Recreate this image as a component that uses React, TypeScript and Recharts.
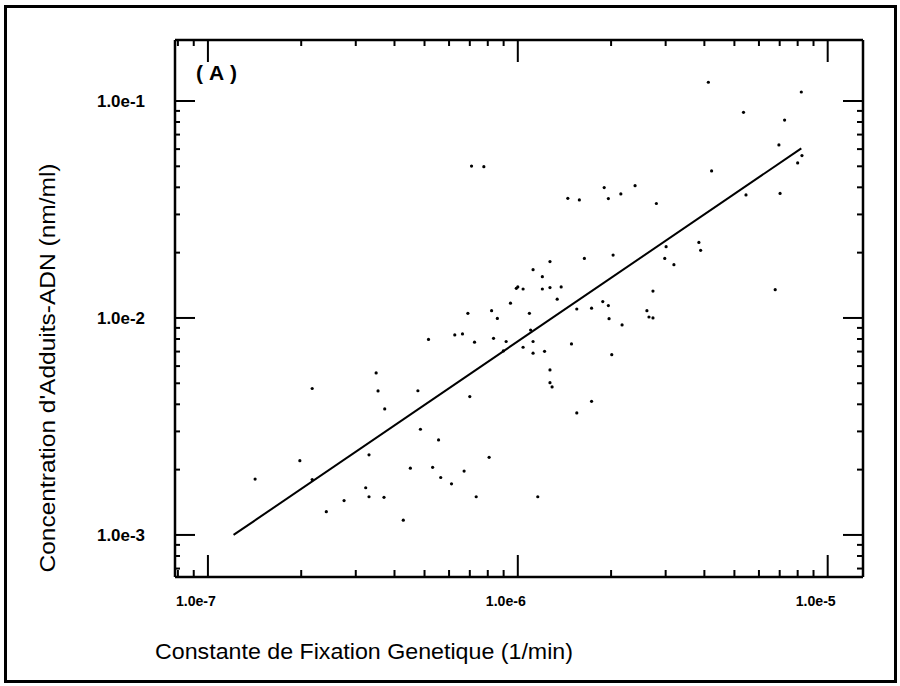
import { ScatterChart, Scatter, XAxis, YAxis } from "recharts";

// Constante de fixation genetique (1/min) for each sample
const FIXATION = [
  1.42e-7, 1.98e-7, 2.17e-7, 2.17e-7, 2.41e-7, 2.75e-7, 3.23e-7, 3.31e-7, 3.31e-7, 3.49e-7,
  3.54e-7, 3.70e-7, 3.72e-7, 4.27e-7, 4.50e-7, 4.76e-7, 4.85e-7, 5.15e-7, 5.31e-7, 5.55e-7,
  5.64e-7, 6.11e-7, 6.26e-7, 6.63e-7, 6.71e-7, 6.90e-7, 7.00e-7, 7.25e-7, 7.34e-7, 8.08e-7,
  8.23e-7, 8.35e-7, 8.59e-7, 8.98e-7, 9.17e-7, 9.47e-7, 9.89e-7, 1.00e-6, 1.04e-6, 1.04e-6,
  1.09e-6, 1.10e-6, 1.12e-6, 1.12e-6, 1.12e-6, 1.16e-6, 1.20e-6, 1.20e-6, 1.22e-6, 1.27e-6,
  1.27e-6, 1.27e-6, 1.27e-6, 1.29e-6, 1.34e-6, 1.38e-6, 1.45e-6, 1.49e-6, 1.55e-6, 1.55e-6,
  1.58e-6, 1.64e-6, 1.73e-6, 1.73e-6, 1.88e-6, 1.90e-6, 1.96e-6, 1.96e-6, 1.97e-6, 2.01e-6,
  2.03e-6, 2.15e-6, 2.17e-6, 2.39e-6, 2.61e-6, 2.65e-6, 2.73e-6, 2.73e-6, 2.80e-6, 2.98e-6,
  3.01e-6, 3.19e-6, 3.84e-6, 3.89e-6, 4.12e-6, 4.22e-6, 5.35e-6, 5.45e-6, 6.77e-6, 6.96e-6,
  7.02e-6, 7.26e-6, 8.00e-6, 8.22e-6, 8.26e-6, 7.09e-7, 7.77e-7,
];

// Concentration d'adduits-ADN (nm/ml), same order
const ADDUITS = [
  1.81e-3, 2.20e-3, 4.73e-3, 1.80e-3, 1.28e-3, 1.44e-3, 1.65e-3, 2.34e-3, 1.50e-3, 5.58e-3,
  4.61e-3, 1.49e-3, 3.81e-3, 1.17e-3, 2.03e-3, 4.62e-3, 3.07e-3, 7.96e-3, 2.05e-3, 2.74e-3,
  1.84e-3, 1.72e-3, 8.35e-3, 8.44e-3, 1.97e-3, 1.05e-2, 4.34e-3, 7.73e-3, 1.50e-3, 2.28e-3,
  1.08e-2, 8.06e-3, 9.95e-3, 7.05e-3, 7.79e-3, 1.17e-2, 1.37e-2, 1.39e-2, 1.36e-2, 7.33e-3,
  1.05e-2, 8.80e-3, 1.67e-2, 7.79e-3, 6.88e-3, 1.50e-3, 1.36e-2, 1.55e-2, 7.02e-3, 1.82e-2,
  1.38e-2, 5.76e-3, 5.03e-3, 4.81e-3, 1.22e-2, 1.39e-2, 3.56e-2, 7.59e-3, 1.10e-2, 3.65e-3,
  3.50e-2, 1.88e-2, 4.13e-3, 1.11e-2, 1.19e-2, 3.99e-2, 3.55e-2, 1.14e-2, 9.92e-3, 6.77e-3,
  1.95e-2, 3.73e-2, 9.29e-3, 4.07e-2, 1.08e-2, 1.01e-2, 1.00e-2, 1.33e-2, 3.37e-2, 1.88e-2,
  2.13e-2, 1.76e-2, 2.23e-2, 2.05e-2, 1.22e-1, 4.76e-2, 8.87e-2, 3.69e-2, 1.35e-2, 6.27e-2,
  3.75e-2, 8.17e-2, 5.18e-2, 1.10e-1, 5.60e-2, 5.01e-2, 4.98e-2,
];

// fitted regression line end points
const FIT_X = [1.21e-7, 8.22e-6];
const FIT_Y = [1.0e-3, 6.05e-2];

const X_TICKS = [
  8e-8, 9e-8, 1e-7, 2e-7, 3e-7, 4e-7, 5e-7, 6e-7, 7e-7, 8e-7, 9e-7,
  1e-6, 2e-6, 3e-6, 4e-6, 5e-6, 6e-6, 7e-6, 8e-6, 9e-6, 1e-5,
];
const Y_TICKS = [
  7e-4, 8e-4, 9e-4, 1e-3, 2e-3, 3e-3, 4e-3, 5e-3, 6e-3, 7e-3, 8e-3, 9e-3,
  1e-2, 2e-2, 3e-2, 4e-2, 5e-2, 6e-2, 7e-2, 8e-2, 9e-2, 1e-1,
];
const X_DOMAIN = [7.83e-8, 1.3e-5];
const Y_DOMAIN = [6.4e-4, 0.191];

const points = FIXATION.map((x, i) => ({ x, y: ADDUITS[i] }));
const fit = FIT_X.map((x, i) => ({ x, y: FIT_Y[i] }));

const isMajor = (v: number) => Math.abs(Math.log10(v) - Math.round(Math.log10(v))) < 1e-6;
const fmt = (v: number) => `1.0e${Math.round(Math.log10(v))}`;

const LABEL_FONT = "'Liberation Sans', Arial, sans-serif";
const TITLE_FONT = "'Liberation Sans Narrow', 'Liberation Sans', Arial, sans-serif";

function BottomTick({ x, y, payload }: any) {
  const major = isMajor(payload.value);
  return (
    <g>
      <line x1={x} x2={x} y1={y} y2={y - (major ? 22 : 7)} stroke="#000" strokeWidth={2} />
      {major && (
        <text x={x - 12} y={y + 29} textAnchor="middle" fontSize={15} fontWeight={700} fontFamily={LABEL_FONT} textLength={40} lengthAdjust="spacingAndGlyphs" fill="#000">
          {fmt(payload.value)}
        </text>
      )}
    </g>
  );
}

function TopTick({ x, y, payload }: any) {
  const major = isMajor(payload.value);
  return <line x1={x} x2={x} y1={y} y2={y + (major ? 22 : 6)} stroke="#000" strokeWidth={2} />;
}

function LeftTick({ x, y, payload }: any) {
  const major = isMajor(payload.value);
  return (
    <g>
      <line x1={x} x2={x + (major ? 20 : 5)} y1={y} y2={y} stroke="#000" strokeWidth={2} />
      {major && (
        <text x={x - 30} y={y + 6} textAnchor="end" fontSize={16} fontWeight={700} fontFamily={LABEL_FONT} textLength={48} lengthAdjust="spacingAndGlyphs" fill="#000">
          {fmt(payload.value)}
        </text>
      )}
    </g>
  );
}

function RightTick({ x, y, payload }: any) {
  const major = isMajor(payload.value);
  return <line x1={x} x2={x - (major ? 20 : 6)} y1={y} y2={y} stroke="#000" strokeWidth={2} />;
}

const dot = (props: any) => <circle cx={props.cx} cy={props.cy} r={1.6} fill="#000" />;
const none = () => <g />;

export default function App() {
  const axisLine = { stroke: "#000", strokeWidth: 2.5 };
  return (
    <div style={{ position: "fixed", left: 0, top: 0, width: 900, height: 686, background: "#fff" }}>
      <div
        style={{
          position: "absolute",
          left: 4,
          top: 5,
          width: 893,
          height: 678,
          border: "3px solid #000",
          boxSizing: "border-box",
        }}
      />
      <div style={{ position: "absolute", left: 0, top: 0 }}>
        <ScatterChart width={900} height={686} margin={{ top: 39, right: 36, bottom: 108, left: 174 }}>
          <XAxis
            xAxisId="b"
            type="number"
            dataKey="x"
            scale="log"
            domain={X_DOMAIN}
            allowDataOverflow
            ticks={X_TICKS}
            interval={0}
            height={1}
            tickSize={0}
            tickMargin={0}
            tickLine={false}
            axisLine={axisLine}
            tick={(p: any) => <BottomTick {...p} />}
            label={{
              content: () => (
                <text x={364} y={659} textAnchor="middle" fontSize={22} fontFamily={TITLE_FONT} textLength={418} lengthAdjust="spacingAndGlyphs" fill="#000">
                  Constante de Fixation Genetique  (1/min)
                </text>
              ),
            }}
          />
          <XAxis
            xAxisId="t"
            orientation="top"
            type="number"
            dataKey="x"
            scale="log"
            domain={X_DOMAIN}
            allowDataOverflow
            ticks={X_TICKS}
            interval={0}
            height={1}
            tickSize={0}
            tickMargin={0}
            tickLine={false}
            axisLine={axisLine}
            tick={(p: any) => <TopTick {...p} />}
            label={{
              content: () => (
                <text x={196} y={80} fontSize={21} fontWeight={700} fontFamily={LABEL_FONT} textLength={41} lengthAdjust="spacing" fill="#000">
                  (A)
                </text>
              ),
            }}
          />
          <YAxis
            yAxisId="l"
            type="number"
            dataKey="y"
            scale="log"
            domain={Y_DOMAIN}
            allowDataOverflow
            ticks={Y_TICKS}
            interval={0}
            width={1}
            tickSize={0}
            tickMargin={0}
            tickLine={false}
            axisLine={axisLine}
            tick={(p: any) => <LeftTick {...p} />}
            label={{
              content: () => (
                <text
                  x={49}
                  y={368}
                  transform="rotate(-90 49 368)"
                  textAnchor="middle"
                  dominantBaseline="middle"
                  fontSize={22}
                  fontFamily={TITLE_FONT}
                  textLength={409}
                  lengthAdjust="spacingAndGlyphs"
                  fill="#000"
                >
                  Concentration d'Adduits-ADN (nm/ml)
                </text>
              ),
            }}
          />
          <YAxis
            yAxisId="r"
            orientation="right"
            type="number"
            dataKey="y"
            scale="log"
            domain={Y_DOMAIN}
            allowDataOverflow
            ticks={Y_TICKS}
            interval={0}
            width={1}
            tickSize={0}
            tickMargin={0}
            tickLine={false}
            axisLine={axisLine}
            tick={(p: any) => <RightTick {...p} />}
          />
          <Scatter xAxisId="b" yAxisId="l" data={points} shape={dot} isAnimationActive={false} />
          <Scatter
            xAxisId="b"
            yAxisId="l"
            data={fit}
            line={{ stroke: "#000", strokeWidth: 2 }}
            shape={none}
            isAnimationActive={false}
          />
          <Scatter xAxisId="t" yAxisId="r" data={fit} shape={none} isAnimationActive={false} />
        </ScatterChart>
      </div>
    </div>
  );
}
